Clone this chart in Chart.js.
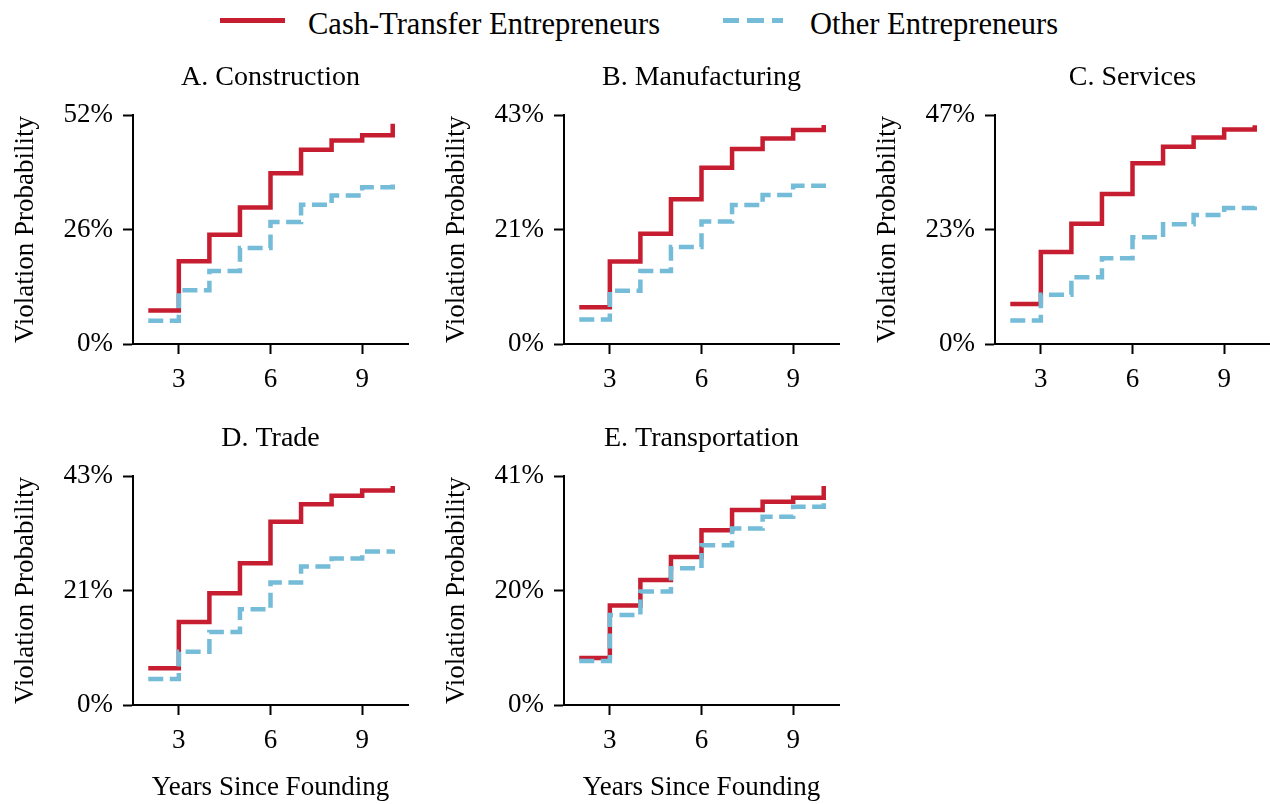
<!DOCTYPE html>
<html>
<head>
<meta charset="utf-8">
<script src="https://cdn.jsdelivr.net/npm/chart.js@4.4.0/dist/chart.umd.min.js"></script>
<style>
html,body{margin:0;padding:0;background:#fff;width:1270px;height:804px;overflow:hidden;position:relative;font-family:'Liberation Serif',serif;}
canvas{position:absolute;}
.legtxt{position:absolute;font-size:30.5px;line-height:30.5px;white-space:nowrap;color:#000;font-family:'Liberation Serif',serif;}
.sw{position:absolute;height:4.5px;}
</style>
</head>
<body>
<div class="sw" style="left:220px;top:18.3px;width:65px;background:rgb(198,30,48);"></div>
<div class="legtxt" style="left:308px;top:8.5px;">Cash-Transfer Entrepreneurs</div>
<div class="sw" style="left:723px;top:18.3px;width:60px;background:repeating-linear-gradient(to right, rgb(116,188,216) 0px, rgb(116,188,216) 16.5px, transparent 16.5px, transparent 24.5px);"></div>
<div class="legtxt" style="left:810px;top:8.5px;">Other Entrepreneurs</div>

<canvas id="pA"></canvas>
<canvas id="pB"></canvas>
<canvas id="pC"></canvas>
<canvas id="pD"></canvas>
<canvas id="pE"></canvas>

<script>
// ---------- data ----------
const years = [2, 3, 4, 5, 6, 7, 8, 9, 10];
const xTickValues = [3, 6, 9];
const xTickLabels = ['3', '6', '9'];

const constructionCash  = [7.6, 18.8, 24.8, 31.0, 38.8, 44.1, 46.2, 47.4, 50.0];
const constructionOther = [5.3, 12.2, 16.6, 21.8, 27.7, 31.6, 33.7, 35.6, 36.6];
const manufacturingCash  = [6.9, 15.5, 20.7, 27.2, 33.1, 36.6, 38.6, 40.2, 41.1];
const manufacturingOther = [4.6, 10.0, 13.7, 18.2, 23.0, 26.1, 28.0, 29.7, 30.4];
const servicesCash  = [8.2, 18.9, 24.7, 30.8, 37.1, 40.5, 42.4, 44.0, 44.9];
const servicesOther = [4.8, 10.1, 13.7, 17.6, 21.9, 24.6, 26.5, 27.9, 28.2];
const tradeCash  = [6.9, 15.6, 21.0, 26.6, 34.4, 37.7, 39.3, 40.3, 41.1];
const tradeOther = [4.9, 10.0, 13.7, 18.0, 23.0, 26.0, 27.5, 28.8, 29.2];
const transportCash  = [8.4, 17.8, 22.4, 26.5, 31.3, 34.9, 36.4, 37.1, 39.2];
const transportOther = [7.9, 16.1, 20.3, 24.5, 28.6, 31.6, 33.7, 35.5, 36.5];

const yMaxA = 52, yMaxB = 43, yMaxC = 47, yMaxD = 43, yMaxE = 41;
const yLabelsA = ['0%', '26%', '52%'];
const yLabelsB = ['0%', '21%', '43%'];
const yLabelsC = ['0%', '23%', '47%'];
const yLabelsD = ['0%', '21%', '43%'];
const yLabelsE = ['0%', '20%', '41%'];

const panelTitles = ['A. Construction', 'B. Manufacturing', 'C. Services', 'D. Trade', 'E. Transportation'];
const seriesNames = ['Cash-Transfer Entrepreneurs', 'Other Entrepreneurs'];
const xAxisTitle = 'Years Since Founding';
const yAxisTitle = 'Violation Probability';

// ---------- styles ----------
const RED = 'rgb(198,30,48)';
const BLUE = 'rgb(116,188,216)';
const FONT = 'Liberation Serif';
Chart.defaults.font.family = FONT;
Chart.defaults.color = '#000';

const AXIS_W = 133, PLOT_W = 275, PLOT_BOTTOM = 344;

function makePanel(id, left, top, width, height, title, cash, other, yMax, yLabels, showXTitle) {
  const cv = document.getElementById(id);
  cv.width = width; cv.height = height;
  cv.style.left = left + 'px'; cv.style.top = top + 'px';
  cv.style.width = width + 'px'; cv.style.height = height + 'px';
  const axisGrid = { drawOnChartArea: false, drawTicks: true, tickLength: 10, tickWidth: 2, tickColor: '#000' };
  const axisBorder = { display: true, color: '#000', width: 2 };
  new Chart(cv, {
    type: 'line',
    data: {
      datasets: [
        { label: seriesNames[1], data: years.map((x, i) => ({ x: x, y: other[i] })),
          borderColor: BLUE, backgroundColor: BLUE, borderWidth: 4.5, borderDash: [15, 6.5],
          borderCapStyle: 'butt', borderJoinStyle: 'miter', stepped: 'before',
          pointRadius: 0, fill: false, order: 0 },
        { label: seriesNames[0], data: years.map((x, i) => ({ x: x, y: cash[i] })),
          borderColor: RED, backgroundColor: RED, borderWidth: 4.5,
          borderJoinStyle: 'miter', stepped: 'before',
          pointRadius: 0, fill: false, order: 1 }
      ]
    },
    options: {
      responsive: false, animation: false, devicePixelRatio: 1,
      layout: { padding: { top: 61.2, left: 0, right: width - AXIS_W - PLOT_W, bottom: 0 } },
      plugins: {
        legend: { display: false }, tooltip: { enabled: false },
        title: { display: true, text: title, fullSize: false, color: '#000',
                 font: { size: 28, family: FONT, weight: 'normal' }, padding: { top: 0, bottom: 20.2 } }
      },
      scales: {
        x: {
          type: 'linear', min: 1.5, max: 10.5,
          afterBuildTicks: s => { s.ticks = xTickValues.map(v => ({ value: v })); },
          afterFit: s => { s.height = height - PLOT_BOTTOM; },
          ticks: { callback: (v, i) => xTickLabels[i], font: { size: 27 }, color: '#000', padding: 10, maxRotation: 0, autoSkip: false },
          grid: axisGrid, border: axisBorder,
          title: { display: showXTitle, text: xAxisTitle, font: { size: 27 }, color: '#000', padding: { top: 0, bottom: 0 } }
        },
        y: {
          min: 0, max: yMax,
          afterBuildTicks: s => { s.ticks = [0, yMax / 2, yMax].map(v => ({ value: v })); },
          afterFit: s => { s.width = AXIS_W; },
          ticks: { callback: (v, i) => yLabels[i], font: { size: 27 }, color: '#000', padding: 10, autoSkip: false },
          grid: axisGrid, border: axisBorder,
          title: { display: true, text: yAxisTitle, font: { size: 27 }, color: '#000', padding: { top: 9.8, bottom: 0 } }
        }
      }
    }
  });
}

makePanel('pA', 0,   0,   420, 400, panelTitles[0], constructionCash,  constructionOther,  yMaxA, yLabelsA, false);
makePanel('pB', 431, 0,   420, 400, panelTitles[1], manufacturingCash, manufacturingOther, yMaxB, yLabelsB, false);
makePanel('pC', 862, 0,   408, 400, panelTitles[2], servicesCash,      servicesOther,      yMaxC, yLabelsC, false);
makePanel('pD', 0,   361, 420, 443, panelTitles[3], tradeCash,         tradeOther,         yMaxD, yLabelsD, true);
makePanel('pE', 431, 361, 420, 443, panelTitles[4], transportCash,     transportOther,     yMaxE, yLabelsE, true);
</script>
</body>
</html>
